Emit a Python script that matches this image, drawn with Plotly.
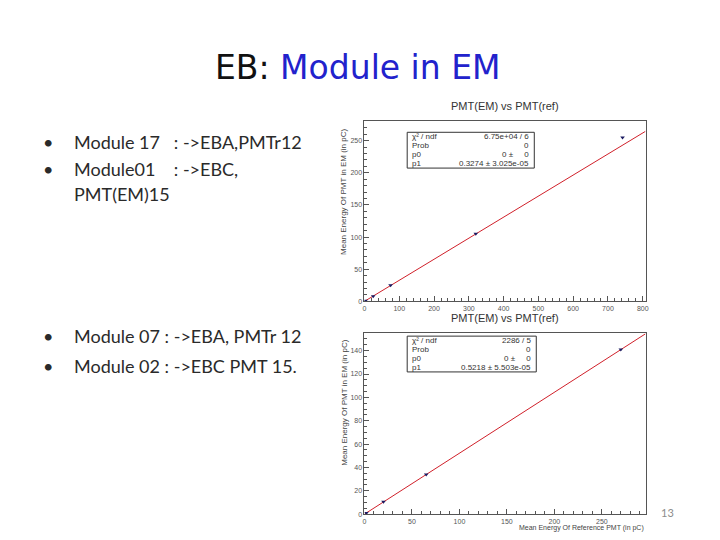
import plotly.graph_objects as go

# slide text
title_black = "EB: "
title_blue = "Module in EM"
bullets_top = ["Module 17   : ->EBA,PMTr12", "Module01    : ->EBC,"]
bullet_top_cont = "PMT(EM)15"
bullets_bottom = ["Module 07 : ->EBA, PMTr 12", "Module 02 : ->EBC PMT 15."]
page_number = "13"

# top plot (module 17 / module 01)
top_x = [3, 25, 75, 320, 742]
top_y = [1, 8, 25, 105, 255]
top_p1 = 0.3274
top_xmax = 808
top_ymax = 280
top_stats = [("\u03c7\u00b2 / ndf", "6.75e+04 / 6"), ("Prob", "0"),
             ("p0", "0 \u00b1     0"), ("p1", "0.3274 \u00b1 3.025e-05")]

# bottom plot (module 07 / module 02)
bot_x = [2, 20, 65, 270]
bot_y = [1, 10.5, 34, 141]
bot_p1 = 0.5218
bot_xmax = 296
bot_ymax = 155
bot_stats = [("\u03c7\u00b2 / ndf", "2286 / 5"), ("Prob", "0"),
             ("p0", "0 \u00b1     0"), ("p1", "0.5218 \u00b1 5.503e-05")]

plot_title = "PMT(EM) vs PMT(ref)"
ytitle = "Mean Energy Of PMT in EM (in pC)"
xtitle = "Mean Energy Of Reference PMT (in pC)"

# page body has an 8px margin, so the figure is a bit smaller than the window
OFF = 8
W, H = 720 - OFF, 540 - OFF


def px(x):
    return (x - OFF) / W


def py(y):
    return 1 - (y - OFF) / H


fig = go.Figure()

# top plot
fig.add_trace(go.Scatter(x=[0, top_xmax], y=[0, top_p1 * top_xmax], mode="lines",
                         line=dict(color="#d0202a", width=1), xaxis="x", yaxis="y",
                         showlegend=False, hoverinfo="skip"))
fig.add_trace(go.Scatter(x=top_x, y=top_y, mode="markers",
                         marker=dict(symbol="triangle-down", size=4, color="#1a1a60"),
                         xaxis="x", yaxis="y", showlegend=False))

# bottom plot
fig.add_trace(go.Scatter(x=[0, bot_xmax], y=[0, bot_p1 * bot_xmax], mode="lines",
                         line=dict(color="#d0202a", width=1), xaxis="x2", yaxis="y2",
                         showlegend=False, hoverinfo="skip"))
fig.add_trace(go.Scatter(x=bot_x, y=bot_y, mode="markers",
                         marker=dict(symbol="triangle-down", size=4, color="#1a1a60"),
                         xaxis="x2", yaxis="y2", showlegend=False))

axis_style = dict(showgrid=False, zeroline=False, showline=True, mirror=True,
                  linecolor="#555555", linewidth=1, ticks="inside", ticklen=5,
                  tickcolor="#555555", tickfont=dict(family="Liberation Sans", size=7, color="#555555"))

fig.update_layout(
    width=W, height=H,
    margin=dict(l=0, r=0, t=0, b=0),
    paper_bgcolor="white", plot_bgcolor="white",
    xaxis=dict(domain=[px(365), px(648)], anchor="y", range=[0, top_xmax], dtick=100,
               minor=dict(ticks="inside", ticklen=3, dtick=20, tickcolor="#555555"), **axis_style),
    yaxis=dict(domain=[py(303), py(122)], anchor="x", range=[0, top_ymax], dtick=50,
               minor=dict(ticks="inside", ticklen=3, dtick=10, tickcolor="#555555"), **axis_style),
    xaxis2=dict(domain=[px(365), px(648)], anchor="y2", range=[0, bot_xmax], dtick=50,
                minor=dict(ticks="inside", ticklen=3, dtick=10, tickcolor="#555555"), **axis_style),
    yaxis2=dict(domain=[py(517), py(335)], anchor="x2", range=[0, bot_ymax], dtick=20,
                minor=dict(ticks="inside", ticklen=3, dtick=5, tickcolor="#555555"), **axis_style),
)

ann = []
shapes = []

# slide title
ann.append(dict(x=px(358), y=py(68), xref="paper", yref="paper", showarrow=False,
                xanchor="center", yanchor="middle",
                text=f"<span style='color:#111111'>{title_black}</span>"
                     f"<span style='color:#2222cc'>{title_blue}</span>",
                font=dict(family="DejaVu Sans", size=33)))

# bullets
body_font = dict(family="Lato", size=18, color="#2a2a2a")
for txt, yy in zip(bullets_top + bullets_bottom, [143, 170, 338, 368]):
    ann.append(dict(x=px(46), y=py(yy), xref="paper", yref="paper", showarrow=False,
                    xanchor="center", yanchor="middle", text="\u2022", font=body_font))
    ann.append(dict(x=px(70), y=py(yy), xref="paper", yref="paper", showarrow=False,
                    xanchor="left", yanchor="middle", text=txt, font=body_font))
ann.append(dict(x=px(70), y=py(195), xref="paper", yref="paper", showarrow=False,
                xanchor="left", yanchor="middle", text=bullet_top_cont, font=body_font))

# plot titles
for yy in [107, 320]:
    ann.append(dict(x=px(506), y=py(yy), xref="paper", yref="paper", showarrow=False,
                    xanchor="center", yanchor="middle", text=plot_title,
                    font=dict(family="Liberation Sans", size=11, color="#333333")))

# y-axis titles
for ytop in [128, 340]:
    ann.append(dict(x=px(344), y=py(ytop), xref="paper", yref="paper", showarrow=False,
                    xanchor="center", yanchor="top", textangle=-90, text=ytitle,
                    font=dict(family="Liberation Sans", size=8, color="#444444")))

# bottom x-axis title
ann.append(dict(x=px(648), y=py(531), xref="paper", yref="paper", showarrow=False,
                xanchor="right", yanchor="middle", text=xtitle,
                font=dict(family="Liberation Sans", size=7, color="#444444")))

# stats boxes
for stats, (x0, y0, x1, y1) in [(top_stats, (408, 133, 536, 169)),
                                (bot_stats, (408, 338, 538, 374))]:
    shapes.append(dict(type="rect", xref="paper", yref="paper",
                       x0=px(x0), x1=px(x1), y0=py(y0), y1=py(y1),
                       line=dict(color="#333333", width=1), fillcolor="white"))
    rh = (y1 - y0) / len(stats)
    for k, (lab, val) in enumerate(stats):
        yc = y0 + rh * (k + 0.5)
        f = dict(family="Liberation Sans", size=8, color="#333333")
        ann.append(dict(x=px(x0 + 3), y=py(yc), xref="paper", yref="paper", showarrow=False,
                        xanchor="left", yanchor="middle", text=lab, font=f))
        ann.append(dict(x=px(x1 - 3), y=py(yc), xref="paper", yref="paper", showarrow=False,
                        xanchor="right", yanchor="middle", text=val, font=f))

# page number
ann.append(dict(x=px(670), y=py(515), xref="paper", yref="paper", showarrow=False,
                xanchor="center", yanchor="middle", text=page_number,
                font=dict(family="Lato", size=11, color="#8c8c8c")))

fig.update_layout(annotations=ann, shapes=shapes)

fig.write_html("out.html")
